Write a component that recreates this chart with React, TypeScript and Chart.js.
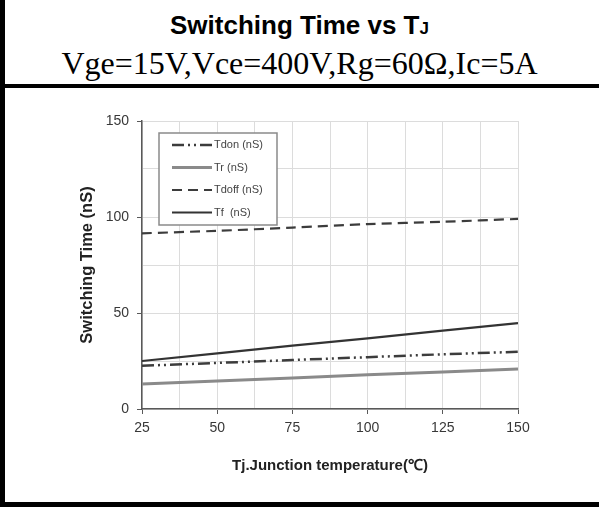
import React, { useEffect, useRef } from 'react';
import { Chart, registerables } from 'chart.js';

Chart.register(...registerables);

const temps = [25, 50, 75, 100, 125, 150];
const tdon = [22.5, 24, 25.5, 27, 28.5, 29.8];
const tr = [13, 14.6, 16.2, 17.8, 19.3, 20.8];
const tdoff = [91.5, 92.8, 94.5, 96.3, 97.5, 99];
const tf = [25, 29, 33, 36.8, 40.8, 44.7];
const seriesNames = ['Tdon (nS)', 'Tr (nS)', 'Tdoff (nS)', 'Tf  (nS)'];
const xLabelStep = 25;
const yLabelStep = 50;

const legendBox = {
  id: 'legendBox',
  afterDatasetsDraw(chart: any) {
    const { ctx, chartArea } = chart;
    const x0 = chartArea.left + 17;
    const y0 = chartArea.top + 12;
    const w = 118;
    const h = 92;
    ctx.save();
    ctx.fillStyle = '#ffffff';
    ctx.fillRect(x0, y0, w, h);
    ctx.strokeStyle = '#8a8a8a';
    ctx.lineWidth = 1.5;
    ctx.strokeRect(x0, y0, w, h);
    chart.data.datasets.forEach((ds: any, i: number) => {
      const y = y0 + 12 + i * 22.5;
      ctx.beginPath();
      ctx.setLineDash(ds.borderDash || []);
      ctx.strokeStyle = ds.borderColor;
      ctx.lineWidth = ds.borderWidth;
      ctx.moveTo(x0 + 13, y);
      ctx.lineTo(x0 + 53, y);
      ctx.stroke();
      ctx.setLineDash([]);
      ctx.fillStyle = '#444444';
      ctx.font = '11px "Liberation Sans", Arial, sans-serif';
      ctx.textBaseline = 'middle';
      ctx.textAlign = 'left';
      ctx.fillText(ds.label, x0 + 55, y);
    });
    ctx.restore();
  },
};

const toPts = (arr: number[]) => temps.map((t, i) => ({ x: t, y: arr[i] }));

export default function App() {
  const ref = useRef<HTMLCanvasElement>(null);
  useEffect(() => {
    if (!ref.current) return;
    const chart = new Chart(ref.current, {
      type: 'line',
      data: {
        datasets: [
          { label: seriesNames[0], data: toPts(tdon), borderColor: '#3c3c3c', borderWidth: 2.5, borderDash: [12, 4, 2, 4, 2, 4], pointRadius: 0, tension: 0 },
          { label: seriesNames[1], data: toPts(tr), borderColor: '#8a8a8a', borderWidth: 3, pointRadius: 0, tension: 0 },
          { label: seriesNames[2], data: toPts(tdoff), borderColor: '#3c3c3c', borderWidth: 2.2, borderDash: [10, 6], pointRadius: 0, tension: 0.3 },
          { label: seriesNames[3], data: toPts(tf), borderColor: '#333333', borderWidth: 2.2, pointRadius: 0, tension: 0 },
        ] as any,
      },
      options: {
        responsive: false,
        animation: false,
        layout: { padding: { left: 70, top: 33, right: 81, bottom: 23 } },
        plugins: { legend: { display: false }, tooltip: { enabled: false }, title: { display: false } },
        scales: {
          x: {
            type: 'linear',
            min: 25,
            max: 150,
            afterFit: (s: any) => { s.height = 70; },
            ticks: {
              stepSize: 12.5,
              autoSkip: false,
              maxRotation: 0,
              padding: 6,
              color: '#383838',
              font: { family: '"Liberation Sans", Arial, sans-serif', size: 14 },
              callback: (v: any) => (Number(v) % xLabelStep === 0 ? String(v) : ''),
            },
            grid: {
              color: '#dcdcdc',
              lineWidth: 1,
              tickLength: 5,
              tickColor: (c: any) => (c.tick && c.tick.value % xLabelStep === 0 ? '#595959' : 'rgba(0,0,0,0)'),
            },
            border: { color: '#595959', width: 1.5 },
            title: {
              display: true,
              text: 'Tj.Junction temperature(℃)',
              color: '#222222',
              font: { family: '"Liberation Sans", Arial, sans-serif', size: 15, weight: 'bold' },
              padding: { top: 4, bottom: 4 },
            },
          },
          y: {
            min: 0,
            max: 150,
            afterFit: (s: any) => { s.width = 67; },
            ticks: {
              stepSize: 25,
              autoSkip: false,
              padding: 8,
              color: '#383838',
              font: { family: '"Liberation Sans", Arial, sans-serif', size: 14 },
              callback: (v: any) => (Number(v) % yLabelStep === 0 ? String(v) : ''),
            },
            grid: {
              color: '#dcdcdc',
              lineWidth: 1,
              tickLength: 5,
              tickColor: (c: any) => (c.tick && c.tick.value % yLabelStep === 0 ? '#595959' : 'rgba(0,0,0,0)'),
            },
            border: { color: '#595959', width: 1.5 },
            title: {
              display: true,
              text: 'Switching Time (nS)',
              color: '#222222',
              font: { family: '"Liberation Sans", Arial, sans-serif', size: 16.5, weight: 'bold' },
              padding: { top: 3, bottom: 3 },
            },
          },
        },
      },
      plugins: [legendBox],
    } as any);
    return () => chart.destroy();
  }, []);

  return (
    <div style={{ position: 'fixed', left: 0, top: 0, width: 599, height: 507, background: '#fff', overflow: 'hidden' }}>
      <div style={{ position: 'absolute', left: 0, top: 0, width: 5, height: 507, background: '#000' }} />
      <div style={{ position: 'absolute', left: 0, top: 84, width: 599, height: 4, background: '#000' }} />
      <div style={{ position: 'absolute', left: 0, top: 502, width: 599, height: 5, background: '#000' }} />
      <div style={{ position: 'absolute', left: 0, top: 12, width: 599, textAlign: 'center', fontFamily: '"Liberation Sans", Arial, sans-serif', fontWeight: 'bold', fontSize: 26, lineHeight: '26px', color: '#000' }}>
        Switching Time vs T<span style={{ fontSize: 17 }}>J</span>
      </div>
      <div style={{ position: 'absolute', left: 0, top: 47, width: 599, textAlign: 'center', fontFamily: '"Liberation Serif", "Times New Roman", serif', fontSize: 32, lineHeight: '32px', color: '#000' }}>
        Vge=15V,Vce=400V,Rg=60Ω,Ic=5A
      </div>
      <canvas ref={ref} width={594} height={414} style={{ position: 'absolute', left: 5, top: 88, width: 594, height: 414 }} />
    </div>
  );
}
